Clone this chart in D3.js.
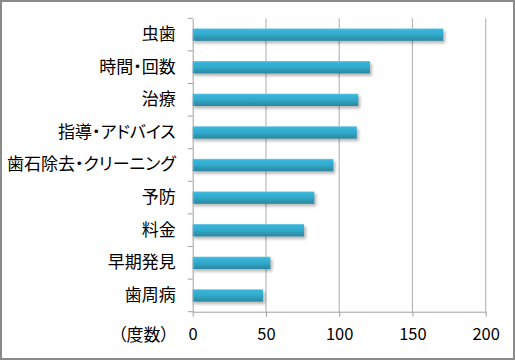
<!DOCTYPE html>
<html><head><meta charset="utf-8">
<script src="https://cdn.jsdelivr.net/npm/d3@7"></script>
<style>html,body{margin:0;padding:0;background:#fff;}svg{display:block;} .jp{font-feature-settings:"palt" 1;}</style>
</head><body>
<script>
const categories = ["虫歯","時間・回数","治療","指導・アドバイス","歯石除去・クリーニング","予防","料金","早期発見","歯周病"];
const values = [171,121,113,112,96,83,76,53,48];
const xTicks = [0,50,100,150,200];
const axisTitle = "（度数）";

const W = 515, H = 360;
const svg = d3.select("body").append("svg").attr("width", W).attr("height", H);
const defs = svg.append("defs");
const grad = defs.append("linearGradient").attr("id","barg").attr("x1",0).attr("y1",0).attr("x2",0).attr("y2",1);
grad.append("stop").attr("offset","0").attr("stop-color","#7fd0e8");
grad.append("stop").attr("offset","0.1").attr("stop-color","#38b6da");
grad.append("stop").attr("offset","0.5").attr("stop-color","#32a9cb");
grad.append("stop").attr("offset","1").attr("stop-color","#2a87a0");
const blur = defs.append("filter").attr("id","sh").attr("x","-10%").attr("y","-50%").attr("width","130%").attr("height","250%");
blur.append("feGaussianBlur").attr("stdDeviation",1.5);

svg.append("rect").attr("x",1).attr("y",1).attr("width",W-2).attr("height",H-2)
  .attr("fill","#fff").attr("stroke","#8a8a8a").attr("stroke-width",2);

const x = d3.scaleLinear().domain([0,200]).range([192.7,485.7]);
const y = d3.scaleBand().domain(categories).range([18.3,311.7]).paddingInner(0.62).paddingOuter(0.31);
const font = "'Noto Sans CJK JP','Noto Sans',sans-serif";

// gridlines
svg.append("g").selectAll("line").data(xTicks.filter(d=>d>0)).join("line")
  .attr("x1",d=>x(d)).attr("x2",d=>x(d)).attr("y1",18.3).attr("y2",311.7)
  .attr("stroke","#b8b8b8").attr("stroke-width",1.2);

// shadows
svg.append("g").selectAll("rect").data(values).join("rect")
  .attr("x",x(0)+1).attr("y",(d,i)=>y(categories[i])+2.5)
  .attr("width",d=>x(d)-x(0)+1).attr("height",y.bandwidth())
  .attr("fill","#000").attr("opacity",0.28).attr("filter","url(#sh)");
// bars
svg.append("g").selectAll("rect").data(values).join("rect")
  .attr("x",x(0)).attr("y",(d,i)=>y(categories[i]))
  .attr("width",d=>x(d)-x(0)).attr("height",y.bandwidth())
  .attr("fill","url(#barg)");

// x axis
const xa = svg.append("g").attr("transform","translate(0,311.7)")
  .call(d3.axisBottom(x).tickValues(xTicks).tickSize(5).tickSizeOuter(0).tickPadding(12));
xa.select(".domain").attr("stroke","#a0a0a0");
xa.selectAll(".tick line").attr("stroke","#a0a0a0");
xa.selectAll("text").attr("font-family",font).attr("font-size",16.5).attr("fill","#000");

// y axis
const ya = svg.append("g").attr("transform","translate(192.7,0)")
  .call(d3.axisLeft(y).tickSize(0).tickPadding(17));
ya.select(".domain").attr("stroke","#a0a0a0");
ya.selectAll("text").attr("class","jp").attr("font-family",font).attr("font-size",17).attr("fill","#000");
const bounds = d3.range(categories.length+1).map(i=>18.3+i*y.step());
ya.append("g").selectAll("line").data(bounds).join("line")
  .attr("x1",-5).attr("x2",0).attr("y1",d=>d).attr("y2",d=>d).attr("stroke","#a0a0a0");

svg.append("text").attr("class","jp").attr("x",169).attr("y",335).attr("dy","0.35em")
  .attr("text-anchor","end").attr("font-family",font).attr("font-size",17).text(axisTitle);
</script>
</body></html>
